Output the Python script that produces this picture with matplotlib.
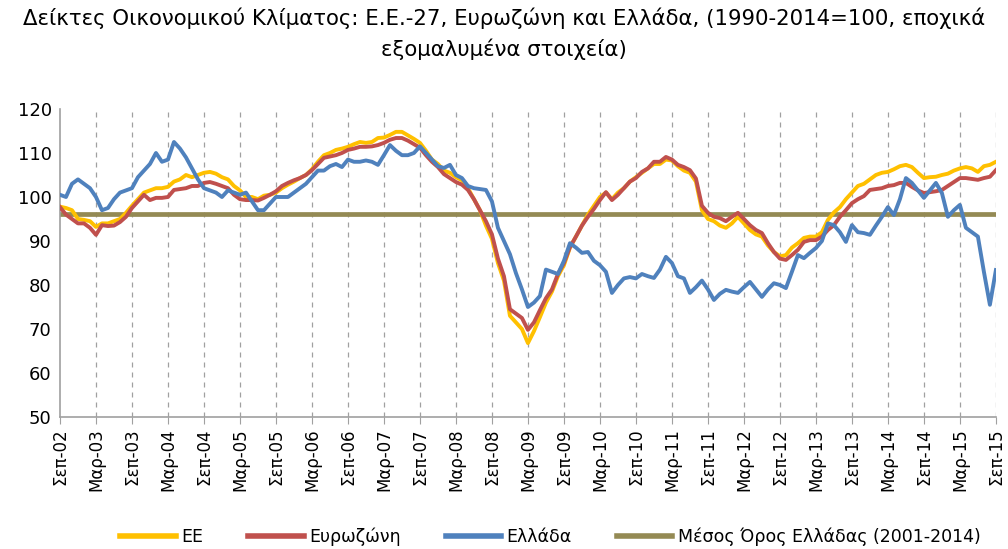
import matplotlib
matplotlib.use("Agg")
import matplotlib.pyplot as plt
import numpy as np

# Monthly values, Sep-2002 .. Sep-2015
ee = [97.8, 97.5, 97.0, 95.0, 94.8, 94.5, 93.2, 94.0, 94.0, 94.5, 95.0, 96.4,
      98.0, 99.5, 101.0, 101.5, 102.0, 102.0, 102.3, 103.5, 104.0, 105.0, 104.5, 105.0,
      105.5, 105.7, 105.3, 104.5, 104.0, 102.5, 101.5, 100.0, 100.0, 99.5, 100.3, 100.5,
      101.0, 102.0, 102.8, 103.5, 104.3, 105.0, 106.3, 108.0, 109.5, 110.0, 110.7, 111.0,
      111.4, 112.0, 112.5, 112.3, 112.5, 113.4, 113.5, 114.1, 114.8, 114.8, 114.0, 113.2,
      112.3, 110.5, 108.5, 107.5, 106.0, 105.5, 104.5, 103.8, 102.0, 99.5, 97.0, 93.5,
      90.5, 85.0, 81.0, 73.0, 71.5, 70.0, 66.8, 69.5, 72.7, 76.0, 78.5, 82.0,
      84.5, 88.5, 91.0, 93.5, 96.0, 98.0, 100.0, 101.0, 99.5, 101.0, 102.0, 103.5,
      104.5, 105.5, 106.5, 107.5, 107.5, 108.5, 108.3, 107.0, 106.0, 105.5, 103.5, 97.0,
      95.0, 94.5, 93.5, 93.0, 94.0, 95.5, 94.0, 92.5, 91.5, 91.0, 89.0, 87.5,
      86.5, 86.8, 88.5, 89.5, 90.7, 91.0, 91.0, 92.0, 94.8, 96.5, 97.7, 99.5,
      101.0, 102.5, 103.0, 104.0, 105.0, 105.5, 105.7, 106.3, 107.0, 107.3, 106.8, 105.5,
      104.3, 104.5, 104.6, 105.0, 105.3, 106.0, 106.5, 106.8, 106.5, 105.7, 107.0, 107.3,
      108.0]

eurozone = [97.7, 96.0, 95.0, 94.0, 94.0, 93.0, 91.4, 93.6, 93.4, 93.5, 94.3, 95.5,
            97.5, 99.0, 100.5, 99.3, 99.8, 99.8, 100.0, 101.6, 101.8, 102.0, 102.5, 102.5,
            103.2, 103.4, 103.0, 102.5, 102.0, 100.5, 99.5, 99.3, 99.3, 99.2, 99.8, 100.5,
            101.3, 102.5, 103.2, 103.8, 104.3, 105.0, 106.1, 107.5, 108.9, 109.2, 109.5, 110.0,
            110.7, 111.0, 111.4, 111.4, 111.5, 111.8, 112.3, 113.0, 113.4, 113.4, 112.8, 112.0,
            111.2, 109.5, 108.0, 106.8, 105.2, 104.3, 103.4, 102.8, 101.6, 99.5, 97.0, 94.5,
            91.5, 86.0, 82.0, 74.5, 73.5, 72.5, 69.8, 71.5, 74.3, 77.0, 79.0, 82.5,
            85.0, 88.6, 91.0, 93.5, 95.5, 97.3, 99.3, 101.1, 99.3, 100.5, 102.0, 103.5,
            104.3, 105.7, 106.5, 108.0, 108.0, 109.1, 108.5, 107.3, 106.8, 106.1, 104.2, 98.0,
            96.4, 95.5, 95.2, 94.5, 95.5, 96.4, 95.0, 93.6, 92.5, 91.8, 89.5, 87.5,
            86.0, 85.7, 86.8, 88.0, 89.8, 90.2, 90.2, 91.0, 92.5, 93.6, 95.5, 97.0,
            98.6, 99.5, 100.2, 101.6, 101.8, 102.0, 102.5, 102.7, 103.2, 103.2, 102.3, 101.5,
            100.9, 101.1, 101.3, 101.6, 102.5, 103.4, 104.3, 104.3, 104.1, 103.9, 104.3, 104.6,
            106.1]

greece = [100.5, 100.0, 103.0, 104.0, 103.0, 102.0, 100.0, 97.0, 97.5, 99.5, 101.0, 101.5,
          102.0, 104.5, 106.0, 107.5, 110.0, 108.0, 108.5, 112.5, 111.0, 109.0, 106.5, 104.0,
          102.0, 101.5, 101.0, 100.0, 101.5, 101.0, 100.5, 101.0, 99.0, 97.0, 97.0, 98.5,
          100.0, 100.0, 100.0, 101.0, 102.0, 103.0, 104.5, 106.0, 106.0, 107.0, 107.5, 106.8,
          108.5, 108.0, 108.0, 108.3, 108.0, 107.3, 109.5, 111.8, 110.5, 109.5, 109.5, 110.0,
          111.5, 110.0, 108.5, 107.0, 106.6, 107.3, 105.0, 104.3, 102.5, 102.0, 101.8, 101.6,
          99.0, 93.0, 90.0, 87.0, 82.7, 79.0, 75.0, 76.0, 77.5, 83.5, 83.0, 82.5,
          85.5, 89.5, 88.5, 87.3, 87.5, 85.5, 84.5, 83.0, 78.2, 80.0, 81.5, 81.8,
          81.5, 82.5, 82.0, 81.6, 83.5, 86.4, 85.0, 82.0, 81.5, 78.2, 79.5, 81.0,
          79.0, 76.6, 78.0, 78.9, 78.5, 78.2, 79.5, 80.7, 79.0, 77.3, 79.0, 80.4,
          80.0, 79.3, 83.0, 86.8, 86.1, 87.3, 88.4, 90.0, 94.0, 93.6, 92.0, 89.8,
          93.6, 92.0, 91.8, 91.4, 93.5, 95.5, 97.7, 95.9, 99.5, 104.3, 103.2, 101.5,
          99.8, 101.5, 103.2, 100.9, 95.5, 97.0, 98.2, 93.0, 92.0, 91.0, 83.0, 75.5,
          83.4]

greece_mean = 96.2

tick_labels = ["Σεπ-02", "Μαρ-03", "Σεπ-03", "Μαρ-04", "Σεπ-04", "Μαρ-05", "Σεπ-05",
               "Μαρ-06", "Σεπ-06", "Μαρ-07", "Σεπ-07", "Μαρ-08", "Σεπ-08", "Μαρ-09",
               "Σεπ-09", "Μαρ-10", "Σεπ-10", "Μαρ-11", "Σεπ-11", "Μαρ-12", "Σεπ-12",
               "Μαρ-13", "Σεπ-13", "Μαρ-14", "Σεπ-14", "Μαρ-15", "Σεπ-15"]

series_names = ["ΕΕ", "Ευρωζώνη", "Ελλάδα", "Μέσος Όρος Ελλάδας (2001-2014)"]

plt.rcParams['font.family'] = ['DejaVu Sans']

fig = plt.figure(figsize=(10.08, 5.49), dpi=100)
ax = fig.add_axes([0.0595, 0.2404, 0.9285, 0.5611])

x = np.arange(len(ee))
ax.plot(x, [greece_mean] * len(x), color='#948A54', lw=3.4, zorder=2, label=series_names[3])
ax.plot(x, ee, color='#FFC000', lw=2.8, zorder=3, label=series_names[0])
ax.plot(x, eurozone, color='#C0504D', lw=2.8, zorder=4, label=series_names[1])
ax.plot(x, greece, color='#4F81BD', lw=2.8, zorder=5, label=series_names[2])

ax.set_xlim(0, len(x) - 1)
ax.set_ylim(50, 120)
ax.set_yticks(np.arange(50, 121, 10))
ticks = np.arange(0, len(x), 6)
ax.set_xticks(ticks)
ax.set_xticklabels(tick_labels, rotation=90, fontsize=12)
ax.tick_params(axis='y', labelsize=13, length=0, pad=6)
ax.tick_params(axis='x', length=5, color='#A0A0A0', pad=3)
for t in ticks[1:]:
    ax.axvline(t, color='#A0A0A0', lw=0.9, ls=(0, (4, 4)), zorder=1)

for s in ['top', 'right']:
    ax.spines[s].set_visible(False)
for s in ['left', 'bottom']:
    ax.spines[s].set_color('#A0A0A0')
    ax.spines[s].set_linewidth(1.2)

handles, labels = ax.get_legend_handles_labels()
order = [1, 2, 3, 0]
leg = fig.legend([handles[i] for i in order], [labels[i] for i in order],
                 loc='center', bbox_to_anchor=(0.546, 0.022), ncol=4, frameon=False,
                 fontsize=12.5, handlelength=3.2, columnspacing=2.6, handletextpad=0.3)
for h in leg.get_lines():
    h.set_linewidth(4)

fig.text(0.5, 0.967, "Δείκτες Οικονομικού Κλίματος: Ε.Ε.-27, Ευρωζώνη και Ελλάδα, (1990-2014=100, εποχικά",
         ha='center', va='center', fontsize=15.3)
fig.text(0.5, 0.91, "εξομαλυμένα στοιχεία)", ha='center', va='center', fontsize=15.3)

fig.savefig("out.png", dpi=100)
